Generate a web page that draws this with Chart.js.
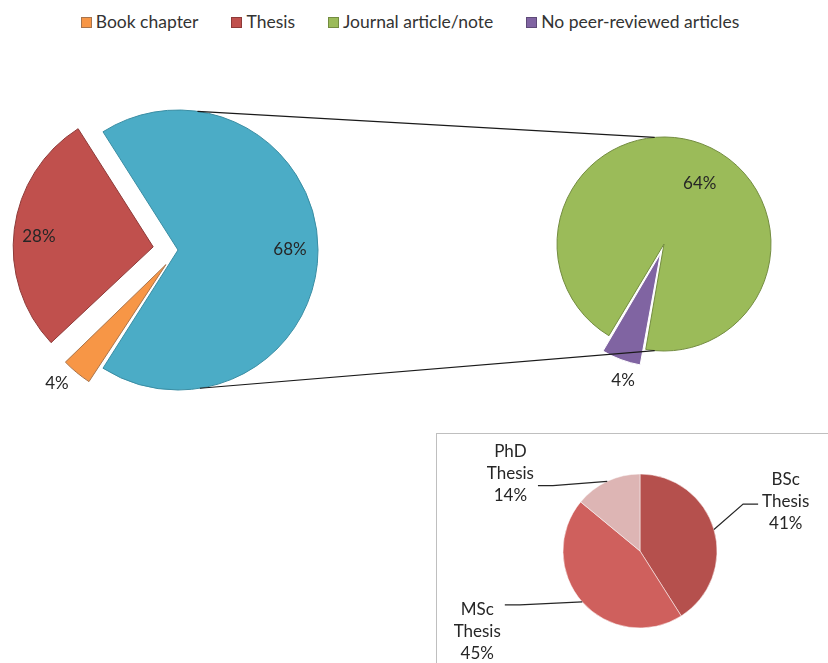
<!DOCTYPE html>
<html lang="en">
<head>
    <meta charset="UTF-8">
    <title>Publication types</title>
    <script src="https://cdn.jsdelivr.net/npm/chart.js@4"></script>
    <style>
        body {
            margin: 0;
            background: #fff;
            font-family: Lato, sans-serif;
        }

        #page {
            position: relative;
            width: 828px;
            height: 663px;
            overflow: hidden;
        }

        canvas {
            position: absolute;
            left: 0;
            top: 0;
        }

        .legend {
            position: absolute;
            top: 11px;
            left: 0;
            width: 820px;
            display: flex;
            justify-content: center;
            gap: 33px;
            font-size: 17.5px;
            color: #333;
        }

        .legend .sw {
            display: inline-block;
            width: 9px;
            height: 9px;
            margin-right: 4px;
            border: 1px solid;
        }

        .box {
            position: absolute;
            left: 436px;
            top: 433px;
            width: 430px;
            height: 260px;
            border: 1px solid #bfbfbf;
        }
    </style>
</head>
<body>
<div id="page">
    <div class="legend" id="legend"></div>
    <div class="box"></div>
    <canvas id="mainPie" width="828" height="663"></canvas>
    <canvas id="articlePie" width="828" height="663"></canvas>
    <canvas id="thesisPie" width="828" height="663"></canvas>
</div>

<script>
    // publication types (percent of all)
    const mainLabels = ['Book chapter', 'Thesis'];
    const mainValues = [4, 28];
    const articleLabels = ['Journal article/note', 'No peer-reviewed articles'];
    const articleValues = [64, 4];
    // breakdown of the theses (percent of theses)
    const thesisLabels = ['BSc Thesis', 'MSc Thesis', 'PhD Thesis'];
    const thesisValues = [41, 45, 14];

    const articleTotal = articleValues.reduce((a, b) => a + b, 0);

    const colors = {
        'Book chapter': ['#F79646', '#A8744C'],
        'Thesis': ['#C0504D', '#8E3A38'],
        'Journal article/note': ['#9BBB59', '#738C40'],
        'No peer-reviewed articles': ['#8064A2', '#ffffff'],
        'Articles': ['#4BACC6', '#3A8DA3']
    };
    const thesisColors = ['#B5504D', '#CF605D', '#DDB5B4'];

    // legend
    const legendEl = document.getElementById('legend');
    mainLabels.concat(articleLabels).forEach(name => {
        const item = document.createElement('div');
        const sw = document.createElement('span');
        sw.className = 'sw';
        sw.style.background = colors[name][0];
        sw.style.borderColor = name === 'No peer-reviewed articles' ? '#5E4A78' : colors[name][1];
        item.appendChild(sw);
        item.appendChild(document.createTextNode(name));
        legendEl.appendChild(item);
    });

    const FONT = '17px Lato, sans-serif';

    // Chart.js enlarges thin exploded slices; keep them at the pie radius
    const keepRadius = {
        id: 'keepRadius',
        afterDatasetsUpdate(chart) {
            chart.getDatasetMeta(0).data.forEach(arc => {
                const shift = (arc.options.offset || 0) / 4;
                const fix = 1 - Math.sin(Math.min(Math.PI, arc.circumference));
                arc.outerRadius -= shift * fix;
            });
        }
    };

    // percentage labels (and optional callouts) placed around each slice
    const pieLabels = {
        id: 'pieLabels',
        afterDatasetsDraw(chart, args, opts) {
            const ctx = chart.ctx;
            const meta = chart.getDatasetMeta(0);
            const R = meta.controller.outerRadius;
            ctx.save();
            ctx.font = FONT;
            ctx.fillStyle = '#262626';
            ctx.textAlign = 'center';
            ctx.textBaseline = 'middle';
            meta.data.forEach((arc, i) => {
                const p = opts.place[i];
                const mid = (arc.startAngle + arc.endAngle) / 2;
                const shift = (arc.options.offset || 0) / 4;
                const cx = arc.x + Math.cos(mid) * shift;
                const cy = arc.y + Math.sin(mid) * shift;
                const a = mid + p.da * Math.PI / 180;
                const lx = cx + Math.cos(a) * R * p.f;
                const ly = cy + Math.sin(a) * R * p.f;
                const lines = opts.text(i);
                const lh = 22;
                lines.forEach((t, k) => {
                    ctx.fillText(t, lx, ly + (k - (lines.length - 1) / 2) * lh);
                });
                if (p.leader) {
                    const w = Math.max(...lines.map(t => ctx.measureText(t).width));
                    const side = Math.cos(a) > 0 ? -1 : 1;
                    const ex = lx + side * (w / 2 + 4);
                    const ey = ly + p.leader;
                    const sx = cx + Math.cos(mid) * R;
                    const sy = cy + Math.sin(mid) * R;
                    ctx.beginPath();
                    ctx.strokeStyle = '#262626';
                    ctx.lineWidth = 1.2;
                    ctx.moveTo(sx, sy);
                    ctx.lineTo(ex + side * 15, ey);
                    ctx.lineTo(ex, ey);
                    ctx.stroke();
                }
            });
            ctx.restore();
        }
    };

    const baseOptions = {
        responsive: false,
        animation: false,
        events: [],
        plugins: {
            legend: { display: false },
            tooltip: { enabled: false }
        }
    };

    // main pie: articles grouped as one slice, split out in the second pie
    const mainNames = ['Articles'].concat(mainLabels);
    const mainPie = new Chart(document.getElementById('mainPie'), {
        type: 'pie',
        data: {
            labels: mainNames,
            datasets: [{
                data: [articleTotal].concat(mainValues),
                backgroundColor: mainNames.map(n => colors[n][0]),
                borderColor: mainNames.map(n => colors[n][1]),
                borderWidth: 1,
                offset: [0, 76, 100]
            }]
        },
        options: {
            ...baseOptions,
            radius: 140,
            rotation: 90 - articleTotal * 1.8,
            layout: { padding: { left: 0, right: 472, top: 0, bottom: 163 } },
            plugins: {
                ...baseOptions.plugins,
                pieLabels: {
                    place: [{ f: 0.8, da: 0 }, { f: 1.15, da: 3 }, { f: 0.82, da: -2 }],
                    text: i => [[articleTotal].concat(mainValues)[i] + '%']
                }
            }
        },
        plugins: [keepRadius, pieLabels]
    });

    // lines joining the grouped slice to the article pie
    const connectors = {
        id: 'connectors',
        afterDatasetsDraw(chart) {
            const a = mainPie.getDatasetMeta(0).data[0];
            const b = chart.getDatasetMeta(0).data[0];
            const rad = d => d * Math.PI / 180;
            const ctx = chart.ctx;
            ctx.save();
            ctx.strokeStyle = '#1a1a1a';
            ctx.lineWidth = 1.2;
            [[-82, -95], [81, 95]].forEach(([da, db]) => {
                ctx.beginPath();
                ctx.moveTo(a.x + Math.cos(rad(da)) * a.outerRadius, a.y + Math.sin(rad(da)) * a.outerRadius);
                ctx.lineTo(b.x + Math.cos(rad(db)) * b.outerRadius, b.y + Math.sin(rad(db)) * b.outerRadius);
                ctx.stroke();
            });
            ctx.restore();
        }
    };

    new Chart(document.getElementById('articlePie'), {
        type: 'pie',
        data: {
            labels: articleLabels,
            datasets: [{
                data: articleValues,
                backgroundColor: articleLabels.map(n => colors[n][0]),
                borderColor: articleLabels.map(n => colors[n][1]),
                borderWidth: 1,
                offset: [0, 40]
            }]
        },
        options: {
            ...baseOptions,
            radius: 107,
            rotation: 211,
            layout: { padding: { left: 500, right: 0, top: 0, bottom: 175 } },
            plugins: {
                ...baseOptions.plugins,
                pieLabels: {
                    place: [{ f: 0.66, da: 10 }, { f: 1.24, da: -4 }],
                    text: i => [articleValues[i] + '%']
                }
            }
        },
        plugins: [connectors, pieLabels]
    });

    new Chart(document.getElementById('thesisPie'), {
        type: 'pie',
        data: {
            labels: thesisLabels,
            datasets: [{
                data: thesisValues,
                backgroundColor: thesisColors,
                borderColor: 'rgba(255,255,255,0.5)',
                borderWidth: 1
            }]
        },
        options: {
            ...baseOptions,
            radius: 77,
            layout: { padding: { left: 452, right: 0, top: 439, bottom: 0 } },
            plugins: {
                ...baseOptions.plugins,
                pieLabels: {
                    place: [
                        { f: 2.0, da: -2.7, leader: 3 },
                        { f: 2.36, da: 15, leader: -27 },
                        { f: 1.96, da: -34, leader: 12 }
                    ],
                    text: i => thesisLabels[i].split(' ').concat(thesisValues[i] + '%')
                }
            }
        },
        plugins: [pieLabels]
    });
</script>
</body>
</html>
